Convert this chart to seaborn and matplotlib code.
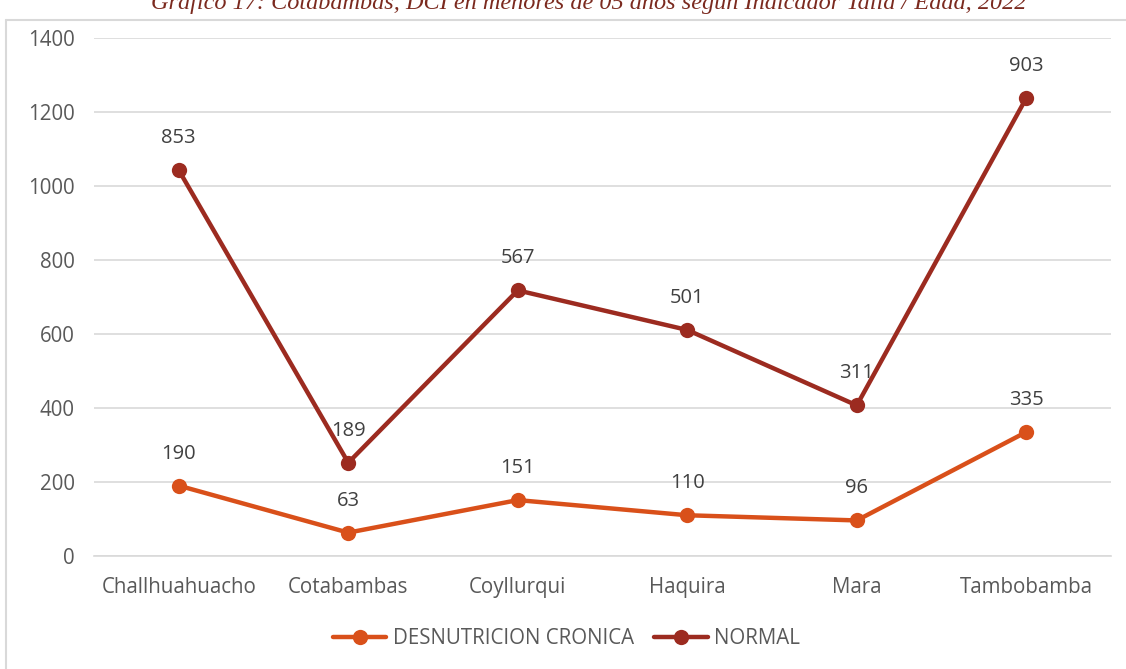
import matplotlib
matplotlib.use("Agg")
import matplotlib.pyplot as plt
import pandas as pd
import seaborn as sns
from matplotlib.lines import Line2D

districts = ["Challhuahuacho", "Cotabambas", "Coyllurqui", "Haquira", "Mara", "Tambobamba"]
desnutricion = [190, 63, 151, 110, 96, 335]
normal = [853, 189, 567, 501, 311, 903]

series_names = ["DESNUTRICION CRONICA", "NORMAL"]
colors = {"DESNUTRICION CRONICA": "#D9501A", "NORMAL": "#9C2B20"}

# stacked line chart: NORMAL sits on top of DESNUTRICION
stacked_normal = [d + n for d, n in zip(desnutricion, normal)]
df = pd.DataFrame({
    "Distrito": districts * 2,
    "pos": list(range(len(districts))) * 2,
    "y": desnutricion + stacked_normal,
    "label": desnutricion + normal,
    "Serie": [series_names[0]] * len(districts) + [series_names[1]] * len(districts),
})

sns.set_theme(style="white")
plt.rcParams["font.family"] = ["Open Sans", "DejaVu Sans"]

fig = plt.figure(figsize=(11.26, 6.69), dpi=100)
ax = fig.add_axes([0.0835, 0.169, 0.9032, 0.774])

sns.lineplot(data=df, x="pos", y="y", hue="Serie", palette=colors, marker="o",
             markersize=11, markeredgewidth=0, linewidth=3.2, ax=ax, legend=False)

for _, row in df.iterrows():
    ax.annotate(str(row["label"]), (row["pos"], row["y"]), xytext=(0, 23),
                textcoords="offset points", ha="center", va="center",
                fontsize=14.5, color="#404040")

ax.set_xlim(-0.5, len(districts) - 0.5)
ax.set_ylim(0, 1400)
ax.set_yticks(range(0, 1401, 200))
ax.set_xticks(range(len(districts)))
ax.set_xticklabels(districts)
ax.set_xlabel("")
ax.set_ylabel("")
ax.tick_params(axis="both", labelsize=14.8, colors="#595959", length=0)
ax.tick_params(axis="x", pad=15)
ax.tick_params(axis="y", pad=14)
ax.grid(axis="y", color="#D9D9D9", linewidth=1.2)
ax.set_axisbelow(True)
for side in ["top", "right", "left"]:
    ax.spines[side].set_visible(False)
ax.spines["bottom"].set_color("#D9D9D9")
ax.spines["bottom"].set_linewidth(1.2)

handles = [Line2D([], [], color=colors[s], marker="o", markersize=11, linewidth=3.2,
                  markeredgewidth=0) for s in series_names]
leg = fig.legend(handles, series_names, loc="center", bbox_to_anchor=(0.503, 0.045),
                 ncol=2, frameon=False, fontsize=14.8, handlelength=2.6,
                 columnspacing=1.0, handletextpad=0.3)
for t in leg.get_texts():
    t.set_color("#595959")

# chart frame (partly cropped)
fig.add_artist(Line2D([6 / 1126, 6 / 1126], [0, 1 - 20 / 669], color="#D9D9D9",
                      linewidth=1.5, transform=fig.transFigure))
fig.add_artist(Line2D([6 / 1126, 1], [1 - 20 / 669, 1 - 20 / 669], color="#D9D9D9",
                      linewidth=1.5, transform=fig.transFigure))

fig.text(0.523, 1 - 4 / 669,
         "Gráfico 17: Cotabambas, DCI en menores de 05 años según Indicador Talla / Edad, 2022",
         ha="center", va="center", fontsize=17.5, style="italic", color="#7B2A1F",
         family=["Liberation Serif", "DejaVu Serif"])

fig.savefig("out.png", dpi=100)
